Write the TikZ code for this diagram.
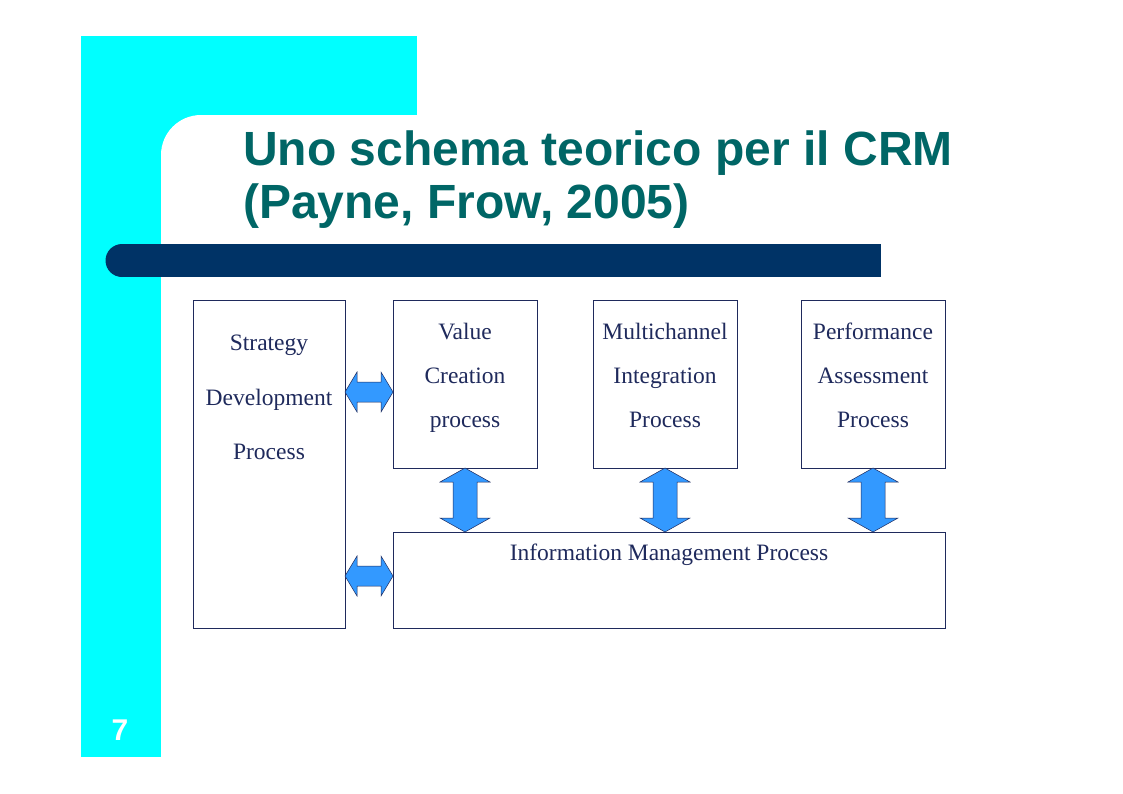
\documentclass[tikz,border=0pt]{standalone}
\usepackage{fontspec}
\setmainfont{Liberation Serif}
\setsansfont{Liberation Sans}
\begin{document}
\begin{tikzpicture}[x=1pt,y=-1pt,
  box/.style={draw=navy,line width=0.6pt,fill=white},
  lbl/.style={text=navy,font=\fontsize{23.5}{24}\selectfont,inner sep=0,anchor=base},
  ttl/.style={anchor=base west,text=teal,font=\sffamily\bfseries\fontsize{48}{50}\selectfont,inner sep=0},
  dbl/.style={draw=navy,fill=arrowblue,line width=0.5pt}]
\definecolor{navy}{HTML}{1F2A5C}
\definecolor{arrowblue}{HTML}{3399FF}
\definecolor{barblue}{HTML}{003366}
\definecolor{teal}{HTML}{006666}
\definecolor{aqua}{HTML}{00FFFF}
\useasboundingbox (0,0) rectangle (1123,793);
\clip (0,0) rectangle (1123,793);
\fill[white] (0,0) rectangle (1123,793);
\fill[aqua] (81,36) rectangle (417,160);
\fill[aqua] (81,36) rectangle (161,757);
\fill[white,rounded corners=40] (161,115) rectangle (1200,900);
\fill[aqua] (81,700) rectangle (161,757);
\node[text=white,font=\sffamily\bfseries\fontsize{30}{30}\selectfont] (num) at (120,730) {7};
\fill[barblue] (122,244) rectangle (881,277);
\fill[barblue] (122,260.5) circle[radius=16.5];
\node[ttl] (t1) at (243,165) {Uno schema teorico per il CRM};
\node[ttl] (t2) at (243,218) {(Payne, Frow, 2005)};
% boxes
\node[box,minimum width=152,minimum height=328,inner sep=0] (sdp) at (269,464) {};
\node[lbl] (s1) at (269,350) {Strategy};
\node[lbl] (s2) at (269,405) {Development};
\node[lbl] (s3) at (269,459) {Process};
\node[box,minimum width=144,minimum height=168] (vcp) at (465,384) {};
\node[lbl] (v1) at (465,339) {Value};
\node[lbl] (v2) at (465,383) {Creation};
\node[lbl] (v3) at (465,427) {process};
\node[box,minimum width=144,minimum height=168] (mip) at (665,384) {};
\node[lbl] (m1) at (665,339) {Multichannel};
\node[lbl] (m2) at (665,383) {Integration};
\node[lbl] (m3) at (665,427) {Process};
\node[box,minimum width=144,minimum height=168] (pap) at (873,384) {};
\node[lbl] (p1) at (873,339) {Performance};
\node[lbl] (p2) at (873,383) {Assessment};
\node[lbl] (p3) at (873,427) {Process};
\node[box,minimum width=552,minimum height=96] (imp) at (669,580) {};
\node[lbl] (i1) at (669,560) {Information Management Process};
% horizontal double arrows
\foreach \y in {392,576}{
 \draw[dbl] (345,\y) -- (357,\y-20) -- (357,\y-10) -- (381,\y-10) -- (381,\y-20) -- (393,\y) -- (381,\y+20) -- (381,\y+10) -- (357,\y+10) -- (357,\y+20) -- cycle;}
% vertical double arrows
\foreach \x in {465,665,873}{
 \draw[dbl] (\x,468) -- (\x+25,482) -- (\x+12,482) -- (\x+12,518) -- (\x+25,518) -- (\x,532) -- (\x-25,518) -- (\x-12,518) -- (\x-12,482) -- (\x-25,482) -- cycle;}
\end{tikzpicture}
\end{document}
